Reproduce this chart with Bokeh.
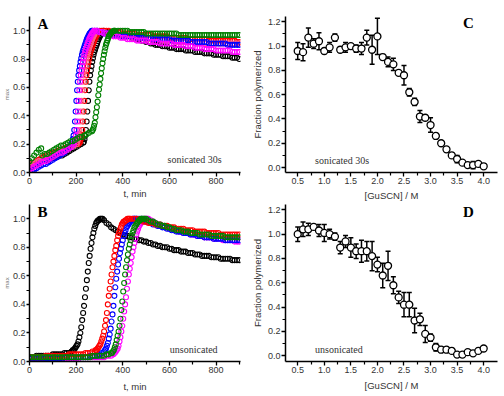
from bokeh.plotting import figure
from bokeh.layouts import column, row
from bokeh.models import FixedTicker, Label, Range1d, PrintfTickFormatter
from bokeh.embed import file_html
from bokeh.resources import INLINE

# ---------------- Panel A (sonicated 30s), normalized intensity vs time -------------
A_black_base = [0.03,0.04,0.05,0.06,0.07,0.07,0.08,0.09,0.09,0.10,0.10,0.11,0.11,0.12,0.12,0.13,0.14,0.15,0.16,0.17,0.18,0.19,0.20]
A_black_rise = [0.21,0.215,0.235,0.26,0.30,0.36,0.43,0.505,0.58,0.64,
                0.685,0.72,0.75,0.78,0.805,0.83,0.85,0.865,0.88,0.895,
                0.91,0.925,0.94,0.95,0.96,0.97,0.98,0.985,0.99,1.00]
A_black_plat = [0.99,0.99,0.99,0.98,0.98,0.98,0.97,0.97,0.97,0.96,
                0.96,0.96,0.95,0.95,0.94,0.94,0.93,0.93,0.92,0.92,
                0.91,0.91,0.90,0.90,0.90,0.89,0.89,0.89,0.88,0.88,
                0.88,0.87,0.87,0.87,0.87,0.86,0.86,0.86,0.86,0.85,
                0.85,0.85,0.85,0.84,0.84,0.84,0.84,0.83,0.83,0.83,
                0.83,0.82,0.82,0.82,0.82,0.81,0.81,0.81,0.80]

A_red_base = [0.05,0.06,0.07,0.08,0.09,0.10,0.11,0.12,0.12,0.13,0.14,0.14,0.15,0.16,0.16,0.17,0.18,0.18,0.19,0.19,0.20,0.20]
A_red_rise = [0.21,0.215,0.235,0.26,0.30,0.36,0.43,0.505,0.58,0.64,
              0.685,0.72,0.75,0.78,0.805,0.83,0.85,0.865,0.88,0.895,
              0.91,0.925,0.94,0.95,0.96,0.97,0.98,0.985,0.99,1.00]
A_red_plat = [1.00,1.00,1.00,1.00,0.99,0.99,0.99,0.99,0.99,0.98,
              0.98,0.98,0.98,0.98,0.98,0.97,0.97,0.97,0.97,0.97,
              0.97,0.97,0.96,0.96,0.96,0.96,0.96,0.96,0.96,0.95,
              0.95,0.95,0.95,0.95,0.95,0.95,0.95,0.94,0.94,0.94,
              0.94,0.94,0.94,0.94,0.94,0.94,0.93,0.93,0.93,0.93,
              0.93,0.93,0.93,0.93,0.93,0.93,0.93,0.93,0.92,0.92]

A_pink_base = [0.04,0.05,0.06,0.07,0.08,0.08,0.09,0.10,0.11,0.12,0.12,0.13,0.14,0.15,0.16,0.16,0.17,0.18,0.18,0.19]
A_pink_rise = [0.20,0.215,0.235,0.26,0.30,0.36,0.43,0.505,0.58,0.64,
               0.685,0.72,0.75,0.78,0.805,0.83,0.85,0.865,0.88,0.895,
               0.91,0.925,0.94,0.95,0.96,0.97,0.98,0.985,0.99,1.00]
A_pink_plat = [0.99,0.99,0.99,0.98,0.98,0.98,0.97,0.97,0.97,0.97,
               0.96,0.96,0.96,0.96,0.96,0.95,0.95,0.95,0.95,0.95,
               0.95,0.94,0.94,0.94,0.94,0.94,0.94,0.93,0.93,0.93,
               0.93,0.93,0.93,0.92,0.92,0.92,0.92,0.92,0.92,0.92,
               0.92,0.91,0.91,0.91,0.91,0.91,0.91,0.91,0.91,0.91,
               0.91,0.91,0.91,0.91,0.91,0.91,0.91,0.91,0.91,0.91,
               0.91]

A_blue_base = [0.00,0.01,0.02,0.03,0.04,0.05,0.06,0.06,0.07,0.08,0.09,0.10,0.11,0.12,0.13,0.14,0.16,0.18]
A_blue_rise = [0.20,0.215,0.235,0.26,0.30,0.36,0.43,0.505,0.58,0.64,
               0.685,0.72,0.75,0.78,0.805,0.83,0.85,0.865,0.88,0.895,
               0.91,0.925,0.94,0.95,0.96,0.97,0.98,0.985,0.99,1.00]
A_blue_plat = [1.00,1.00,1.00,0.99,0.99,0.98,0.98,0.98,0.97,0.97,
               0.97,0.97,0.96,0.96,0.96,0.96,0.96,0.96,0.96,0.95,
               0.95,0.95,0.95,0.95,0.95,0.95,0.94,0.94,0.94,0.94,
               0.94,0.94,0.94,0.94,0.93,0.93,0.93,0.93,0.93,0.93,
               0.93,0.93,0.92,0.92,0.92,0.92,0.92,0.92,0.92,0.92,
               0.91,0.91,0.91,0.91,0.91,0.91,0.91,0.91,0.90,0.90,
               0.90,0.90,0.90,0.90]

A_magenta_base = [0.02,0.03,0.04,0.05,0.06,0.07,0.08,0.08,0.09,0.10,0.11,0.12,0.13,0.14,0.14,0.15,0.16,0.17,0.18]
A_magenta_rise = [0.20,0.215,0.235,0.26,0.30,0.36,0.43,0.505,0.58,0.64,
                  0.685,0.72,0.75,0.78,0.805,0.83,0.85,0.865,0.88,0.895,
                  0.91,0.925,0.94,0.95,0.96,0.97,0.98,0.985,0.99,1.00]
A_magenta_plat = [1.00,1.00,0.99,0.99,0.98,0.98,0.97,0.97,0.96,0.96,
                  0.96,0.95,0.95,0.95,0.94,0.94,0.94,0.94,0.93,0.93,
                  0.93,0.93,0.93,0.92,0.92,0.92,0.92,0.92,0.91,0.91,
                  0.91,0.91,0.91,0.91,0.90,0.90,0.90,0.90,0.90,0.89,
                  0.89,0.89,0.89,0.88,0.88,0.88,0.88,0.87,0.87,0.87,
                  0.87,0.87,0.86,0.86,0.86,0.86,0.86,0.86,0.86,0.85,
                  0.85,0.85,0.85]

A_green_seg1 = [0.08,0.10,0.12,0.14,0.16,0.17]
A_green_seg2 = [0.12,0.13,0.13,0.14,0.15,0.16,0.17,0.18,0.19,0.19,0.20,0.21,0.22,0.22,0.23,0.24,0.25,0.25,0.26,0.27,0.28]
A_green_rise = [0.29,0.30,0.31,0.33,0.35,0.39,0.425,0.46,0.50,0.545,
                0.585,0.62,0.66,0.70,0.735,0.77,0.80,0.83,0.855,0.88,
                0.90,0.915,0.93,0.945,0.96,0.97,0.975,0.98,0.99,0.99,
                0.995,1.00,1.00,1.00]
A_green_plat = [1.00,1.00,1.00,1.00,1.00,0.99,0.99,0.99,0.99,0.99,
                0.99,0.99,0.98,0.98,0.98,0.98,0.98,0.98,0.98,0.98,
                0.98,0.98,0.98,0.98,0.98,0.98,0.97,0.97,0.97,0.97,
                0.97,0.97,0.97,0.97,0.97,0.97,0.97,0.97,0.97,0.97,
                0.97,0.97,0.97,0.97,0.97,0.97,0.97,0.97,0.97,0.97,
                0.97,0.97,0.97]

# ---------------- Panel B (unsonicated) ----------------
B_black_base = [0.03,0.03,0.03,0.04,0.04,0.04,0.04,0.04,0.04,0.04,0.05,0.05,0.05,0.05,0.05,0.06,0.06,0.06,0.07]
B_black_rise = [0.08,0.08,0.09,0.10,0.11,0.12,0.14,0.17,0.20,0.24,0.29,0.34,0.39,0.45,0.51,0.57,0.63,0.69,0.74,0.79,
                0.83,0.87,0.90,0.93,0.95,0.97,0.98,0.99,0.99,1.00,1.00,1.00,1.00]
B_black_plat = [0.99,0.97,0.96,0.94,0.93,0.92,0.91,0.90,0.89,0.88,
                0.88,0.87,0.87,0.86,0.86,0.85,0.85,0.84,0.84,0.83,
                0.83,0.82,0.82,0.81,0.81,0.80,0.80,0.80,0.79,0.79,
                0.78,0.78,0.78,0.77,0.77,0.77,0.76,0.76,0.76,0.75,
                0.75,0.75,0.74,0.74,0.74,0.74,0.73,0.73,0.73,0.73,
                0.72,0.72,0.72,0.72,0.72,0.71,0.71,0.71,0.71]

B_red_base = [0.03,0.03,0.03,0.03,0.03,0.03,0.03,0.04,0.04,0.04,0.04,0.04,0.04,0.04,0.04,0.04,0.04,0.05,0.05,0.05,
              0.05,0.05,0.05,0.05,0.06,0.06,0.06,0.07,0.07]
B_red_rise = [0.08,0.08,0.09,0.10,0.11,0.12,0.14,0.16,0.18,0.21,0.25,0.29,0.34,0.40,0.46,0.51,0.56,0.61,0.66,0.70,
              0.74,0.78,0.81,0.85,0.88,0.90,0.92,0.94,0.96,0.97,0.98,0.98,0.99,0.99,1.00,1.00,1.00,1.00]
B_red_plat = [1.00,1.00,1.00,0.99,0.99,0.98,0.98,0.97,0.97,0.97,
              0.96,0.96,0.96,0.95,0.95,0.95,0.94,0.94,0.94,0.93,
              0.93,0.93,0.93,0.92,0.92,0.92,0.92,0.91,0.91,0.91,
              0.91,0.91,0.90,0.90,0.90,0.90,0.90,0.90,0.89,0.89,
              0.89,0.89,0.89,0.89,0.89,0.89,0.89]

B_blue_base = [0.02,0.02,0.02,0.02,0.02,0.02,0.02,0.02,0.02,0.02,0.02,0.02,0.02,0.02,0.02,0.03,0.03,0.03,0.03,0.03,
               0.03,0.03,0.03,0.03,0.03,0.03,0.04,0.04,0.04,0.04,0.05,0.06,0.07]
B_blue_rise = [0.08,0.09,0.11,0.13,0.16,0.19,0.23,0.28,0.33,0.39,0.46,0.52,0.58,0.63,0.68,0.72,0.76,0.79,0.82,0.85,
               0.88,0.90,0.92,0.94,0.95,0.96,0.97,0.98,0.99,0.99,1.00,1.00,1.00,1.00,1.00]
B_blue_plat = [1.00,1.00,0.99,0.98,0.98,0.97,0.96,0.96,0.95,0.95,
               0.94,0.94,0.93,0.93,0.92,0.92,0.91,0.91,0.91,0.90,
               0.90,0.90,0.89,0.89,0.89,0.88,0.88,0.88,0.87,0.87,
               0.87,0.87,0.86,0.86,0.86,0.86,0.86,0.85,0.85,0.85,
               0.85,0.85,0.85,0.85]

B_green_base = [0.03,0.03,0.03,0.03,0.03,0.03,0.03,0.03,0.03,0.03,0.03,0.03,0.03,0.03,0.03,0.03,0.03,0.03,0.03,0.03,
                0.03,0.03,0.03,0.03,0.03,0.03,0.03,0.04,0.04,0.04,0.04,0.04,0.04,0.05,0.05,0.06]
B_green_rise = [0.06,0.07,0.08,0.10,0.12,0.15,0.18,0.21,0.25,0.30,0.36,0.42,0.49,0.55,0.61,0.66,0.71,0.75,0.79,0.82,
                0.85,0.88,0.90,0.92,0.94,0.95,0.96,0.97,0.98,0.99,0.99,1.00,1.00,1.00,1.00,1.00]
B_green_plat = [1.00,0.99,0.98,0.98,0.97,0.96,0.96,0.95,0.95,0.94,
                0.94,0.93,0.93,0.92,0.92,0.92,0.91,0.91,0.91,0.90,
                0.90,0.90,0.90,0.89,0.89,0.89,0.89,0.89,0.88,0.88,
                0.88,0.88,0.88,0.88,0.87,0.87,0.87,0.87,0.87,0.87,
                0.87]

B_magenta_base = [0.02,0.02,0.02,0.02,0.02,0.02,0.02,0.02,0.02,0.02,0.02,0.02,0.02,0.02,0.02,0.02,0.02,0.02,0.02,0.02,
                  0.02,0.02,0.03,0.03,0.03,0.03,0.03,0.03,0.03,0.03,0.03,0.03,0.03,0.04,0.04,0.04,0.05]
B_magenta_rise = [0.06,0.07,0.08,0.09,0.11,0.14,0.17,0.21,0.25,0.30,0.35,0.40,0.45,0.51,0.56,0.61,0.65,0.69,0.73,0.77,
                  0.80,0.83,0.86,0.89,0.91,0.93,0.95,0.96,0.97,0.98,0.99,0.99,1.00,1.00,1.00,1.00]
B_magenta_plat = [1.00,0.99,0.98,0.97,0.96,0.96,0.95,0.94,0.94,0.93,
                  0.93,0.92,0.92,0.91,0.91,0.90,0.90,0.90,0.89,0.89,
                  0.89,0.88,0.88,0.88,0.87,0.87,0.87,0.87,0.86,0.86,
                  0.86,0.86,0.85,0.85,0.85,0.85,0.85,0.84,0.84,0.84]

# ---------------- Panels C and D: fraction polymerized vs [GuSCN] ----------------
conc = [0.5,0.6,0.7,0.8,0.9,1.0,1.1,1.2,1.3,1.4,1.5,1.6,1.7,1.8,1.9,2.0,2.1,2.2,2.3,2.4,
        2.5,2.6,2.7,2.8,2.9,3.0,3.1,3.2,3.3,3.4,3.5,3.6,3.7,3.8,3.9,4.0]
C_frac = [0.96,0.95,1.07,1.02,1.04,0.96,0.99,1.07,0.97,0.99,1.00,0.98,0.98,1.07,0.97,1.08,0.91,0.87,0.85,0.78,
          0.76,0.62,0.54,0.42,0.41,0.35,0.26,0.20,0.15,0.10,0.07,0.04,0.02,0.02,0.03,0.01]
C_err = [0.07,0.07,0.08,0.04,0.07,0.02,0.04,0.03,0.02,0.04,0.02,0.03,0.05,0.06,0.12,0.15,0.02,0.04,0.05,0.02,
         0.08,0.03,0.03,0.05,0.02,0.06,0.02,0.01,0.02,0.02,0.03,0.01,0.01,0.03,0.01,0.01]
D_frac = [1.00,1.04,1.04,1.06,1.03,1.01,1.00,0.98,0.89,0.94,0.89,0.86,0.86,0.86,0.82,0.75,0.66,0.74,0.58,0.48,
          0.42,0.42,0.29,0.30,0.18,0.15,0.07,0.05,0.05,0.04,0.01,0.01,0.03,0.02,0.04,0.06]
D_err = [0.06,0.06,0.05,0.02,0.05,0.07,0.04,0.03,0.05,0.05,0.08,0.06,0.09,0.08,0.12,0.06,0.10,0.12,0.07,0.05,
         0.10,0.10,0.10,0.05,0.07,0.03,0.03,0.02,0.02,0.02,0.01,0.01,0.02,0.01,0.02,0.01]

t_ticks = [0, 200, 400, 600, 800]
t_minor = [100, 300, 500, 700, 900]
i_ticks = [0.0, 0.2, 0.4, 0.6, 0.8, 1.0]
i_minor = [0.1, 0.3, 0.5, 0.7, 0.9]
c_ticks = [0.5, 1.0, 1.5, 2.0, 2.5, 3.0, 3.5, 4.0]
c_minor = [0.75, 1.25, 1.75, 2.25, 2.75, 3.25, 3.75]
f_ticks = [0.0, 0.2, 0.4, 0.6, 0.8, 1.0, 1.2]
f_minor = [0.1, 0.3, 0.5, 0.7, 0.9, 1.1]

COL = {"black": "#000000", "red": "#ff0000", "pink": "#ff5c8a", "blue": "#0000ff",
       "magenta": "#ff00ff", "green": "#008000"}

# sampling grids (minutes) of each recorded segment
A_series = [
    ("black", [(range(0, 230, 10), A_black_base), (range(230, 318, 3), A_black_rise), (range(320, 901, 10), A_black_plat)]),
    ("red", [(range(0, 220, 10), A_red_base), (range(214, 302, 3), A_red_rise), (range(310, 901, 10), A_red_plat)]),
    ("pink", [(range(0, 200, 10), A_pink_base), (range(202, 290, 3), A_pink_rise), (range(300, 901, 10), A_pink_plat)]),
    ("blue", [(range(0, 180, 10), A_blue_base), (range(180, 268, 3), A_blue_rise), (range(270, 901, 10), A_blue_plat)]),
    ("magenta", [(range(0, 190, 10), A_magenta_base), (range(190, 278, 3), A_magenta_rise), (range(280, 901, 10), A_magenta_plat)]),
    ("green", [(range(0, 60, 10), A_green_seg1), (range(55, 260, 10), A_green_seg2),
               (range(268, 369, 3), A_green_rise), (range(380, 901, 10), A_green_plat)]),
]
B_series = [
    ("black", [(range(0, 190, 10), B_black_base), (range(186, 315, 4), B_black_rise), (range(320, 901, 10), B_black_plat)]),
    ("magenta", [(range(0, 370, 10), B_magenta_base), (range(366, 507, 4), B_magenta_rise), (range(510, 901, 10), B_magenta_plat)]),
    ("blue", [(range(0, 330, 10), B_blue_base), (range(324, 461, 4), B_blue_rise), (range(470, 901, 10), B_blue_plat)]),
    ("red", [(range(0, 290, 10), B_red_base), (range(284, 433, 4), B_red_rise), (range(440, 901, 10), B_red_plat)]),
    ("green", [(range(0, 360, 10), B_green_base), (range(354, 495, 4), B_green_rise), (range(500, 901, 10), B_green_plat)]),
]


def make_fig(w, h, xr, yr, left, right, top, bottom):
    p = figure(width=w, height=h, x_range=Range1d(*xr), y_range=Range1d(*yr),
               output_backend="svg", toolbar_location=None, tools="")
    p.min_border_left = left
    p.min_border_right = right
    p.min_border_top = top
    p.min_border_bottom = bottom
    p.outline_line_color = None
    p.grid.visible = False
    p.background_fill_color = "white"
    p.border_fill_color = "white"
    for ax in (p.xaxis[0], p.yaxis[0]):
        ax.axis_line_width = 1.5
        ax.axis_line_color = "black"
        ax.major_tick_line_width = 1.3
        ax.major_tick_line_color = "black"
        ax.minor_tick_line_width = 1.2
        ax.minor_tick_line_color = "black"
        ax.major_tick_out = 4
        ax.major_tick_in = 0
        ax.minor_tick_out = 3
        ax.minor_tick_in = 0
        ax.major_label_text_font = "Liberation Sans"
        ax.major_label_text_font_size = "9px"
        ax.major_label_text_color = "#333333"
        ax.major_label_standoff = 1
        ax.axis_label_text_font = "Liberation Sans"
        ax.axis_label_text_font_style = "normal"
        ax.axis_label_text_font_size = "9.5px"
        ax.axis_label_text_color = "#333333"
    return p


def kinetics(p, series):
    for c, segs in series:
        ts, ys = [], []
        for grid, vals in segs:
            g = list(grid)
            n = min(len(g), len(vals))
            ts += g[:n]
            ys += vals[:n]
        p.scatter(ts, ys, marker="circle", size=5, fill_color=None,
                  line_color=COL[c], line_width=1.1)


def kin_axes(p, label_standoff):
    p.xaxis.ticker = FixedTicker(ticks=t_ticks, minor_ticks=t_minor)
    p.yaxis.ticker = FixedTicker(ticks=i_ticks, minor_ticks=i_minor)
    p.yaxis.formatter = PrintfTickFormatter(format="%.1f")
    p.xaxis.axis_label = "t, min"
    p.xaxis.axis_label_standoff = label_standoff
    p.yaxis.axis_label = "max"
    p.yaxis.axis_label_text_font_size = "6px"
    p.yaxis.axis_label_text_color = "#777777"
    p.yaxis.axis_label_standoff = 0
    p.yaxis.major_label_standoff = 1
    p.yaxis.major_tick_out = 3


def frac(p, y, err, label_standoff):
    p.xaxis.ticker = FixedTicker(ticks=c_ticks, minor_ticks=c_minor)
    p.yaxis.ticker = FixedTicker(ticks=f_ticks, minor_ticks=f_minor)
    p.xaxis.formatter = PrintfTickFormatter(format="%.1f")
    p.yaxis.formatter = PrintfTickFormatter(format="%.1f")
    p.xaxis.axis_label = "[GuSCN] / M"
    p.xaxis.axis_label_standoff = label_standoff
    p.yaxis.axis_label = "Fraction polymerized"
    p.yaxis.axis_label_standoff = 2
    up = [a + b for a, b in zip(y, err)]
    lo = [a - b for a, b in zip(y, err)]
    p.segment(conc, lo, conc, up, line_color="black", line_width=1.5)
    p.scatter(conc, up, marker="dash", size=5, line_color="black", line_width=1.5)
    p.scatter(conc, lo, marker="dash", size=5, line_color="black", line_width=1.5)
    p.scatter(conc, y, marker="circle", size=7, fill_color="white", line_color="black", line_width=1.3)


def letter(p, x, y, s):
    p.add_layout(Label(x=x, y=y, text=s, text_font="Liberation Serif", text_font_style="bold",
                       text_font_size="15px", text_baseline="middle", text_align="left",
                       text_color="black"))


def note(p, x, y, s):
    p.add_layout(Label(x=x, y=y, text=s, text_font="Liberation Serif", text_font_size="10px",
                       text_baseline="middle", text_align="left", text_color="#333333"))


# Panel A
pA = make_fig(248, 204, (0, 905), (0, 1.1), 25, 8, 16, 31)
kin_axes(pA, 1)
kinetics(pA, A_series)
letter(pA, 34, 1.045, "A")
note(pA, 592, 0.091, "sonicated 30s")

# Panel B
pB = make_fig(248, 192, (0, 905), (0, 1.1), 25, 8, 0, 35)
kin_axes(pB, 5)
kinetics(pB, B_series)
letter(pB, 34, 1.049, "B")
note(pB, 602, 0.087, "unsonicated")

# Panel C
pC = make_fig(256, 204, (0.27, 4.26), (-0.041, 1.244), 33, 7, 15, 32)
frac(pC, C_frac, C_err, 3)
letter(pC, 3.61, 1.187, "C")
note(pC, 0.825, 0.057, "sonicated 30s")

# Panel D
pD = make_fig(256, 192, (0.27, 4.26), (-0.047, 1.244), 33, 7, 0, 35)
frac(pD, D_frac, D_err, 4)
letter(pD, 3.61, 1.186, "D")
note(pD, 0.825, 0.048, "unsonicated")

layout = column(row(pA, pC), row(pB, pD))
open("out.html", "w").write(file_html(layout, INLINE))
